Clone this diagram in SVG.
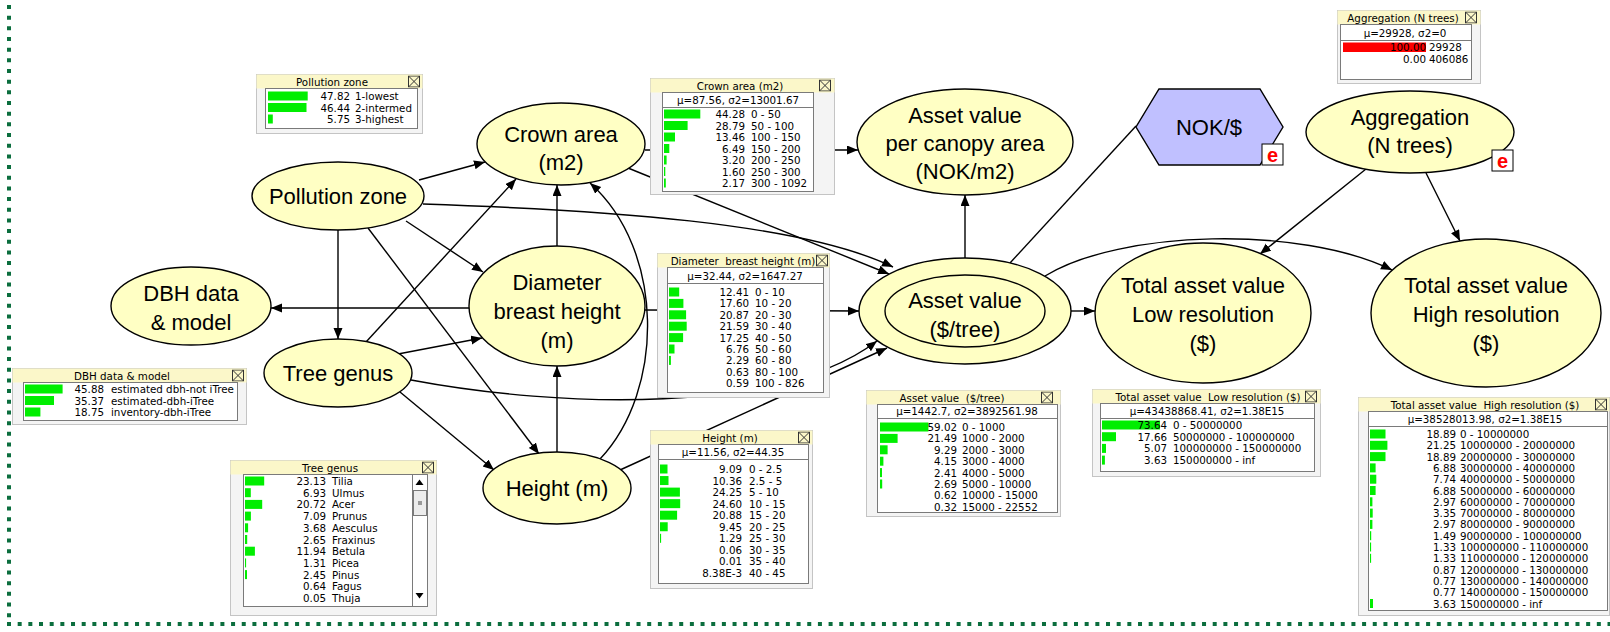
<svg xmlns="http://www.w3.org/2000/svg" xmlns:xlink="http://www.w3.org/1999/xlink" width="1610" height="632" viewBox="0 0 1610 632">
<style>
.n{fill:#ffffc4;stroke:#000;stroke-width:1.4}
.nt{font-family:"Liberation Sans",Arial,sans-serif;font-size:22px;text-anchor:middle;fill:#000}
.c{fill:none;stroke:#000;stroke-width:1.4;marker-end:url(#ah)}
.cn{fill:none;stroke:#000;stroke-width:1.4}
.bo{fill:#f4f4f4;stroke:#c4c4c4}
.tb{fill:#fbf7c9}
.pn{fill:#fff;stroke:#7a7a7a}
.sp{stroke:#7a7a7a}
.bt{font-family:"DejaVu Sans",Verdana,sans-serif;font-size:10.3px;fill:#000}
.m{text-anchor:middle}
.r{text-anchor:end}
.g{fill:#00ee00}
.ev{fill:#fff;stroke:#000}
.et{font-family:"Liberation Sans",Arial,sans-serif;font-size:20px;font-weight:bold;fill:#f00;text-anchor:middle}
.dot{stroke:#0b6e3e;stroke-width:4;stroke-dasharray:4 6.67;fill:none}
</style>
<defs>
<marker id="ah" markerUnits="userSpaceOnUse" markerWidth="12" markerHeight="10" refX="11" refY="4.5" orient="auto"><path d="M0,0L11,4.5L0,9z" fill="#000"/></marker>
<symbol id="xx" viewBox="0 0 12 12" width="12" height="12"><rect x="0.5" y="0.5" width="11" height="11" fill="none" stroke="#333"/><path d="M0.5,0.5L11.5,11.5M11.5,0.5L0.5,11.5" stroke="#333"/></symbol>
</defs>
<rect width="1610" height="632" fill="#fff"/>
<line class="dot" x1="9" y1="5" x2="9" y2="626"/>
<line class="dot" x1="7" y1="624" x2="1610" y2="624" style="stroke-width:4"/>

<g id="connectors">
<path class="c" d="M419,180L485,162"/>
<path class="c" d="M406,221L483,272"/>
<path class="c" d="M338,230L338,339"/>
<path class="c" d="M368,228L539,454"/>
<path class="c" d="M423,204C600,210 800,222 893,267"/>
<path class="c" d="M628,168L889,274"/>
<path class="c" d="M366,342L516,179"/>
<path class="c" d="M398,354L482,338"/>
<path class="c" d="M400,392L494,470"/>
<path class="c" d="M411,380C560,408 780,415 877,341"/>
<path class="c" d="M557,452L557,366"/>
<path class="c" d="M557,246L557,185"/>
<path class="c" d="M600,459C665,390 665,250 590,183"/>
<path class="c" d="M469,308L271,308"/>
<path class="c" d="M645,310L859,311"/>
<path class="c" d="M620,470L887,348"/>
<path class="c" d="M645,150L858,150"/>
<path class="c" d="M965,258L965,195"/>
<path class="cn" d="M1136,126L1010,263"/>
<path class="c" d="M1071,311L1095,311"/>
<path class="c" d="M1045,276C1120,230 1300,225 1392,270"/>
<path class="c" d="M1366,169L1260,254"/>
<path class="c" d="M1426,173L1460,241"/>
</g>

<g id="node-pollution-zone"><ellipse class="n" cx="338" cy="196" rx="86" ry="34"/><text class="nt" x="338" y="204">Pollution zone</text></g>
<g id="node-crown-area"><ellipse class="n" cx="561" cy="144" rx="84" ry="41"/><text class="nt" x="561" y="142">Crown area</text><text class="nt" x="561" y="170">(m2)</text></g>
<g id="node-dbh-data"><ellipse class="n" cx="191" cy="306" rx="80" ry="39"/><text class="nt" x="191" y="301">DBH data</text><text class="nt" x="191" y="330">&amp; model</text></g>
<g id="node-dbh"><ellipse class="n" cx="557" cy="306" rx="88" ry="60"/><text class="nt" x="557" y="290">Diameter</text><text class="nt" x="557" y="319">breast height</text><text class="nt" x="557" y="348">(m)</text></g>
<g id="node-tree-genus"><ellipse class="n" cx="338" cy="373" rx="74" ry="34"/><text class="nt" x="338" y="381">Tree genus</text></g>
<g id="node-height"><ellipse class="n" cx="557" cy="488" rx="74" ry="36"/><text class="nt" x="557" y="496">Height (m)</text></g>
<g id="node-asset-canopy"><ellipse class="n" cx="965" cy="142" rx="108" ry="53"/><text class="nt" x="965" y="123">Asset value</text><text class="nt" x="965" y="151">per canopy area</text><text class="nt" x="965" y="179">(NOK/m2)</text></g>
<g id="node-nok"><polygon points="1159,89 1260,89 1283,127 1260,165 1159,165 1136,127" fill="#c0c0ff" stroke="#000" stroke-width="1.4"/><text class="nt" x="1209" y="135">NOK/$</text><rect class="ev" x="1262" y="144" width="21" height="21"/><text class="et" x="1272.5" y="162">e</text></g>
<g id="node-aggregation"><ellipse class="n" cx="1410" cy="132" rx="104" ry="41"/><text class="nt" x="1410" y="125">Aggregation</text><text class="nt" x="1410" y="153">(N trees)</text><rect class="ev" x="1492" y="150" width="21" height="21"/><text class="et" x="1502.5" y="168">e</text></g>
<g id="node-asset-value"><ellipse class="n" cx="965" cy="311" rx="106" ry="53"/><ellipse class="n" cx="965" cy="311" rx="80" ry="36"/><text class="nt" x="965" y="308">Asset value</text><text class="nt" x="965" y="337">($/tree)</text></g>
<g id="node-total-low"><ellipse class="n" cx="1203" cy="313" rx="108" ry="70"/><text class="nt" x="1203" y="293">Total asset value</text><text class="nt" x="1203" y="322">Low resolution</text><text class="nt" x="1203" y="351">($)</text></g>
<g id="node-total-high"><ellipse class="n" cx="1486" cy="313" rx="115" ry="74"/><text class="nt" x="1486" y="293">Total asset value</text><text class="nt" x="1486" y="322">High resolution</text><text class="nt" x="1486" y="351">($)</text></g>

<g id="box-pollution-zone" transform="translate(256,74)">
<rect class="bo" x="0.5" y="0.5" width="166" height="59"/><rect class="tb" x="0.5" y="0.5" width="166" height="14"/>
<text class="bt m" x="76" y="11.5">Pollution zone</text><use xlink:href="#xx" x="152" y="1.5"/>
<rect class="pn" x="9.5" y="14.5" width="152" height="40"/>
<rect class="g" x="12" y="17.5" width="39.7" height="9"/><text class="bt r" x="94" y="26">47.82</text><text class="bt" x="99" y="26">1-lowest</text>
<rect class="g" x="12" y="29" width="38.5" height="9"/><text class="bt r" x="94" y="37.5">46.44</text><text class="bt" x="99" y="37.5">2-intermed</text>
<rect class="g" x="12" y="40.5" width="4.8" height="9"/><text class="bt r" x="94" y="49">5.75</text><text class="bt" x="99" y="49">3-highest</text>
</g>

<g id="box-crown-area" transform="translate(650,78)">
<rect class="bo" x="0.5" y="0.5" width="184" height="116"/><rect class="tb" x="0.5" y="0.5" width="184" height="14"/>
<text class="bt m" x="90" y="11.5">Crown area (m2)</text><use xlink:href="#xx" x="169" y="1.5"/>
<rect class="pn" x="12.5" y="14.5" width="151" height="99"/><line class="sp" x1="12.5" y1="29.5" x2="163.5" y2="29.5"/>
<text class="bt m" x="88" y="25.5">μ=87.56, σ2=13001.67</text>
<rect class="g" x="14" y="31.5" width="36.3" height="9"/><text class="bt r" x="95" y="40">44.28</text><text class="bt" x="101" y="40">0 - 50</text>
<rect class="g" x="14" y="43" width="23.6" height="9"/><text class="bt r" x="95" y="51.5">28.79</text><text class="bt" x="101" y="51.5">50 - 100</text>
<rect class="g" x="14" y="54.5" width="11" height="9"/><text class="bt r" x="95" y="63">13.46</text><text class="bt" x="101" y="63">100 - 150</text>
<rect class="g" x="14" y="66" width="5.3" height="9"/><text class="bt r" x="95" y="74.5">6.49</text><text class="bt" x="101" y="74.5">150 - 200</text>
<rect class="g" x="14" y="77.5" width="2.6" height="9"/><text class="bt r" x="95" y="86">3.20</text><text class="bt" x="101" y="86">200 - 250</text>
<rect class="g" x="14" y="89" width="1.3" height="9"/><text class="bt r" x="95" y="97.5">1.60</text><text class="bt" x="101" y="97.5">250 - 300</text>
<rect class="g" x="14" y="100.5" width="1.8" height="9"/><text class="bt r" x="95" y="109">2.17</text><text class="bt" x="101" y="109">300 - 1092</text>
</g>

<g id="box-dbh" transform="translate(657,253)">
<rect class="bo" x="0.5" y="0.5" width="172" height="144"/><rect class="tb" x="0.5" y="0.5" width="172" height="14"/>
<text class="bt m" x="86" y="11.5">Diameter&#160; breast height (m)</text><use xlink:href="#xx" x="159" y="1.5"/>
<rect class="pn" x="10.5" y="14.5" width="156" height="125"/><line class="sp" x1="10.5" y1="30.5" x2="166.5" y2="30.5"/>
<text class="bt m" x="88" y="26.5">μ=32.44, σ2=1647.27</text>
<rect class="g" x="12" y="34.5" width="10.2" height="9"/><text class="bt r" x="92" y="43">12.41</text><text class="bt" x="98" y="43">0 - 10</text>
<rect class="g" x="12" y="45.9" width="14.4" height="9"/><text class="bt r" x="92" y="54.4">17.60</text><text class="bt" x="98" y="54.4">10 - 20</text>
<rect class="g" x="12" y="57.3" width="17.1" height="9"/><text class="bt r" x="92" y="65.8">20.87</text><text class="bt" x="98" y="65.8">20 - 30</text>
<rect class="g" x="12" y="68.7" width="17.7" height="9"/><text class="bt r" x="92" y="77.2">21.59</text><text class="bt" x="98" y="77.2">30 - 40</text>
<rect class="g" x="12" y="80.1" width="14.1" height="9"/><text class="bt r" x="92" y="88.6">17.25</text><text class="bt" x="98" y="88.6">40 - 50</text>
<rect class="g" x="12" y="91.5" width="5.5" height="9"/><text class="bt r" x="92" y="100">6.76</text><text class="bt" x="98" y="100">50 - 60</text>
<rect class="g" x="12" y="102.9" width="1.9" height="9"/><text class="bt r" x="92" y="111.4">2.29</text><text class="bt" x="98" y="111.4">60 - 80</text>
<text class="bt r" x="92" y="122.8">0.63</text><text class="bt" x="98" y="122.8">80 - 100</text>
<text class="bt r" x="92" y="134.2">0.59</text><text class="bt" x="98" y="134.2">100 - 826</text>
</g>

<g id="box-dbh-data" transform="translate(12,368)">
<rect class="bo" x="0.5" y="0.5" width="234" height="56"/><rect class="tb" x="0.5" y="0.5" width="234" height="14"/>
<text class="bt m" x="110" y="11.5">DBH data &amp; model</text><use xlink:href="#xx" x="220" y="1.5"/>
<rect class="pn" x="11.5" y="14.5" width="214" height="38"/>
<rect class="g" x="13" y="16.5" width="37.6" height="9"/><text class="bt r" x="92" y="25">45.88</text><text class="bt" x="99" y="25">estimated dbh-not iTree</text>
<rect class="g" x="13" y="28" width="29" height="9"/><text class="bt r" x="92" y="36.5">35.37</text><text class="bt" x="99" y="36.5">estimated-dbh-iTree</text>
<rect class="g" x="13" y="39.5" width="15.4" height="9"/><text class="bt r" x="92" y="48">18.75</text><text class="bt" x="99" y="48">inventory-dbh-iTree</text>
</g>

<g id="box-tree-genus" transform="translate(230,460)">
<rect class="bo" x="0.5" y="0.5" width="206" height="155"/><rect class="tb" x="0.5" y="0.5" width="206" height="14"/>
<text class="bt m" x="100" y="11.5">Tree genus</text><use xlink:href="#xx" x="192" y="1.5"/>
<rect class="pn" x="13.5" y="14.5" width="184" height="132"/>
<line class="sp" x1="182.5" y1="14.5" x2="182.5" y2="146.5"/>
<polygon points="185.5,25 193.5,25 189.5,19.5" fill="#000"/>
<rect x="183.5" y="30.5" width="13" height="25" fill="#ececec" stroke="#7a7a7a"/><rect x="188" y="41" width="4" height="4" fill="#999"/>
<polygon points="185.5,133 193.5,133 189.5,138.5" fill="#000"/>
<rect class="g" x="15" y="16.5" width="19.2" height="9"/><text class="bt r" x="96" y="25">23.13</text><text class="bt" x="102" y="25">Tilia</text>
<rect class="g" x="15" y="28.2" width="5.8" height="9"/><text class="bt r" x="96" y="36.7">6.93</text><text class="bt" x="102" y="36.7">Ulmus</text>
<rect class="g" x="15" y="39.9" width="17.2" height="9"/><text class="bt r" x="96" y="48.4">20.72</text><text class="bt" x="102" y="48.4">Acer</text>
<rect class="g" x="15" y="51.6" width="5.9" height="9"/><text class="bt r" x="96" y="60.1">7.09</text><text class="bt" x="102" y="60.1">Prunus</text>
<rect class="g" x="15" y="63.3" width="3.1" height="9"/><text class="bt r" x="96" y="71.8">3.68</text><text class="bt" x="102" y="71.8">Aesculus</text>
<rect class="g" x="15" y="75" width="2.2" height="9"/><text class="bt r" x="96" y="83.5">2.65</text><text class="bt" x="102" y="83.5">Fraxinus</text>
<rect class="g" x="15" y="86.7" width="9.9" height="9"/><text class="bt r" x="96" y="95.2">11.94</text><text class="bt" x="102" y="95.2">Betula</text>
<rect class="g" x="15" y="98.4" width="1.1" height="9"/><text class="bt r" x="96" y="106.9">1.31</text><text class="bt" x="102" y="106.9">Picea</text>
<rect class="g" x="15" y="110.1" width="2" height="9"/><text class="bt r" x="96" y="118.6">2.45</text><text class="bt" x="102" y="118.6">Pinus</text>
<text class="bt r" x="96" y="130.3">0.64</text><text class="bt" x="102" y="130.3">Fagus</text>
<text class="bt r" x="96" y="142">0.05</text><text class="bt" x="102" y="142">Thuja</text>
</g>

<g id="box-height" transform="translate(650,430)">
<rect class="bo" x="0.5" y="0.5" width="162" height="158"/><rect class="tb" x="0.5" y="0.5" width="162" height="14"/>
<text class="bt m" x="80" y="11.5">Height (m)</text><use xlink:href="#xx" x="148" y="1.5"/>
<rect class="pn" x="8.5" y="14.5" width="150" height="139"/><line class="sp" x1="8.5" y1="29.5" x2="158.5" y2="29.5"/>
<text class="bt m" x="83" y="25.5">μ=11.56, σ2=44.35</text>
<rect class="g" x="10" y="34.5" width="7.5" height="9"/><text class="bt r" x="92" y="43">9.09</text><text class="bt" x="99" y="43">0 - 2.5</text>
<rect class="g" x="10" y="46.05" width="8.5" height="9"/><text class="bt r" x="92" y="54.55">10.36</text><text class="bt" x="99" y="54.55">2.5 - 5</text>
<rect class="g" x="10" y="57.6" width="19.9" height="9"/><text class="bt r" x="92" y="66.1">24.25</text><text class="bt" x="99" y="66.1">5 - 10</text>
<rect class="g" x="10" y="69.15" width="20.2" height="9"/><text class="bt r" x="92" y="77.65">24.60</text><text class="bt" x="99" y="77.65">10 - 15</text>
<rect class="g" x="10" y="80.7" width="17.1" height="9"/><text class="bt r" x="92" y="89.2">20.88</text><text class="bt" x="99" y="89.2">15 - 20</text>
<rect class="g" x="10" y="92.25" width="7.7" height="9"/><text class="bt r" x="92" y="100.75">9.45</text><text class="bt" x="99" y="100.75">20 - 25</text>
<rect class="g" x="10" y="103.8" width="1.1" height="9"/><text class="bt r" x="92" y="112.3">1.29</text><text class="bt" x="99" y="112.3">25 - 30</text>
<text class="bt r" x="92" y="123.85">0.06</text><text class="bt" x="99" y="123.85">30 - 35</text>
<text class="bt r" x="92" y="135.4">0.01</text><text class="bt" x="99" y="135.4">35 - 40</text>
<text class="bt r" x="92" y="146.95">8.38E-3</text><text class="bt" x="99" y="146.95">40 - 45</text>
</g>

<g id="box-asset-value" transform="translate(866,390)">
<rect class="bo" x="0.5" y="0.5" width="194" height="126"/><rect class="tb" x="0.5" y="0.5" width="194" height="14"/>
<text class="bt m" x="86" y="11.5">Asset value&#160; ($/tree)</text><use xlink:href="#xx" x="175" y="1.5"/>
<rect class="pn" x="11.5" y="14.5" width="180" height="108"/><line class="sp" x1="11.5" y1="28.5" x2="191.5" y2="28.5"/>
<text class="bt m" x="101" y="24.5">μ=1442.7, σ2=3892561.98</text>
<rect class="g" x="14" y="32.5" width="48.4" height="9"/><text class="bt r" x="91" y="41">59.02</text><text class="bt" x="96" y="41">0 - 1000</text>
<rect class="g" x="14" y="43.9" width="17.6" height="9"/><text class="bt r" x="91" y="52.4">21.49</text><text class="bt" x="96" y="52.4">1000 - 2000</text>
<rect class="g" x="14" y="55.3" width="7.6" height="9"/><text class="bt r" x="91" y="63.8">9.29</text><text class="bt" x="96" y="63.8">2000 - 3000</text>
<rect class="g" x="14" y="66.7" width="3.4" height="9"/><text class="bt r" x="91" y="75.2">4.15</text><text class="bt" x="96" y="75.2">3000 - 4000</text>
<rect class="g" x="14" y="78.1" width="2" height="9"/><text class="bt r" x="91" y="86.6">2.41</text><text class="bt" x="96" y="86.6">4000 - 5000</text>
<rect class="g" x="14" y="89.5" width="2.2" height="9"/><text class="bt r" x="91" y="98">2.69</text><text class="bt" x="96" y="98">5000 - 10000</text>
<text class="bt r" x="91" y="109.4">0.62</text><text class="bt" x="96" y="109.4">10000 - 15000</text>
<text class="bt r" x="91" y="120.8">0.32</text><text class="bt" x="96" y="120.8">15000 - 22552</text>
</g>

<g id="box-total-low" transform="translate(1092,389)">
<rect class="bo" x="0.5" y="0.5" width="228" height="87"/><rect class="tb" x="0.5" y="0.5" width="228" height="14"/>
<text class="bt m" x="116" y="11.5">Total asset value&#160; Low resolution ($)</text><use xlink:href="#xx" x="213" y="1.5"/>
<rect class="pn" x="8.5" y="14.5" width="214" height="68"/><line class="sp" x1="8.5" y1="29.5" x2="222.5" y2="29.5"/>
<text class="bt m" x="115" y="25.5">μ=43438868.41, σ2=1.38E15</text>
<rect class="g" x="10" y="31.5" width="58" height="9"/><text class="bt r" x="75" y="40">73.64</text><text class="bt" x="81" y="40">0 - 50000000</text>
<rect class="g" x="10" y="43.2" width="14" height="9"/><text class="bt r" x="75" y="51.7">17.66</text><text class="bt" x="81" y="51.7">50000000 - 100000000</text>
<rect class="g" x="10" y="54.9" width="4" height="9"/><text class="bt r" x="75" y="63.4">5.07</text><text class="bt" x="81" y="63.4">100000000 - 150000000</text>
<rect class="g" x="10" y="66.6" width="2.9" height="9"/><text class="bt r" x="75" y="75.1">3.63</text><text class="bt" x="81" y="75.1">150000000 - inf</text>
</g>

<g id="box-total-high" transform="translate(1358,397)">
<rect class="bo" x="0.5" y="0.5" width="251" height="218"/><rect class="tb" x="0.5" y="0.5" width="251" height="14"/>
<text class="bt m" x="127" y="11.5">Total asset value&#160; High resolution ($)</text><use xlink:href="#xx" x="237" y="1.5"/>
<rect class="pn" x="10.5" y="14.5" width="239" height="199"/><line class="sp" x1="10.5" y1="29.5" x2="249.5" y2="29.5"/>
<text class="bt m" x="127" y="25.5">μ=38528013.98, σ2=1.38E15</text>
<rect class="g" x="12" y="32.5" width="15.5" height="9"/><text class="bt r" x="98" y="41">18.89</text><text class="bt" x="102" y="41">0 - 10000000</text>
<rect class="g" x="12" y="43.8" width="17.4" height="9"/><text class="bt r" x="98" y="52.3">21.25</text><text class="bt" x="102" y="52.3">10000000 - 20000000</text>
<rect class="g" x="12" y="55.1" width="15.5" height="9"/><text class="bt r" x="98" y="63.6">18.89</text><text class="bt" x="102" y="63.6">20000000 - 30000000</text>
<rect class="g" x="12" y="66.4" width="5.6" height="9"/><text class="bt r" x="98" y="74.9">6.88</text><text class="bt" x="102" y="74.9">30000000 - 40000000</text>
<rect class="g" x="12" y="77.7" width="6.3" height="9"/><text class="bt r" x="98" y="86.2">7.74</text><text class="bt" x="102" y="86.2">40000000 - 50000000</text>
<rect class="g" x="12" y="89" width="5.6" height="9"/><text class="bt r" x="98" y="97.5">6.88</text><text class="bt" x="102" y="97.5">50000000 - 60000000</text>
<rect class="g" x="12" y="100.3" width="2.4" height="9"/><text class="bt r" x="98" y="108.8">2.97</text><text class="bt" x="102" y="108.8">60000000 - 70000000</text>
<rect class="g" x="12" y="111.6" width="2.7" height="9"/><text class="bt r" x="98" y="120.1">3.35</text><text class="bt" x="102" y="120.1">70000000 - 80000000</text>
<rect class="g" x="12" y="122.9" width="2.4" height="9"/><text class="bt r" x="98" y="131.4">2.97</text><text class="bt" x="102" y="131.4">80000000 - 90000000</text>
<rect class="g" x="12" y="134.2" width="1.2" height="9"/><text class="bt r" x="98" y="142.7">1.49</text><text class="bt" x="102" y="142.7">90000000 - 100000000</text>
<rect class="g" x="12" y="145.5" width="1.1" height="9"/><text class="bt r" x="98" y="154">1.33</text><text class="bt" x="102" y="154">100000000 - 110000000</text>
<rect class="g" x="12" y="156.8" width="1.1" height="9"/><text class="bt r" x="98" y="165.3">1.33</text><text class="bt" x="102" y="165.3">110000000 - 120000000</text>
<text class="bt r" x="98" y="176.6">0.87</text><text class="bt" x="102" y="176.6">120000000 - 130000000</text>
<text class="bt r" x="98" y="187.9">0.77</text><text class="bt" x="102" y="187.9">130000000 - 140000000</text>
<text class="bt r" x="98" y="199.2">0.77</text><text class="bt" x="102" y="199.2">140000000 - 150000000</text>
<rect class="g" x="12" y="202" width="3" height="9"/><text class="bt r" x="98" y="210.5">3.63</text><text class="bt" x="102" y="210.5">150000000 - inf</text>
</g>

<g id="box-aggregation" transform="translate(1337,10)">
<rect class="bo" x="0.5" y="0.5" width="143" height="73"/><rect class="tb" x="0.5" y="0.5" width="143" height="14"/>
<text class="bt m" x="66" y="11.5">Aggregation (N trees)</text><use xlink:href="#xx" x="128" y="1.5"/>
<rect class="pn" x="3.5" y="14.5" width="131" height="55"/><line class="sp" x1="3.5" y1="30.5" x2="134.5" y2="30.5"/>
<text class="bt m" x="68" y="26.5">μ=29928, σ2=0</text>
<rect x="6" y="32.5" width="83" height="9.5" fill="#ff0000"/><text class="bt r" x="89" y="41">100.00</text><text class="bt" x="92" y="41">29928</text>
<text class="bt r" x="89" y="52.5">0.00</text><text class="bt" x="92" y="52.5">406086</text>
</g>
</svg>
